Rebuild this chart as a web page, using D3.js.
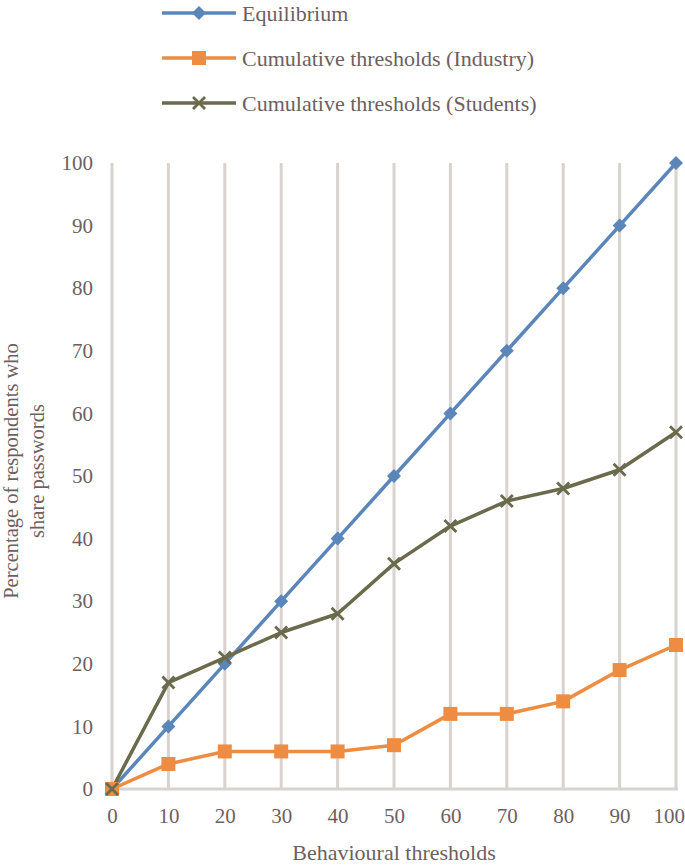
<!DOCTYPE html>
<html><head><meta charset="utf-8">
<script src="https://cdn.jsdelivr.net/npm/d3@7"></script>
<style>body{margin:0;background:#fff}svg{display:block}</style>
</head><body>
<svg id="c" width="685" height="867"></svg>
<script>
const xValues = [0,10,20,30,40,50,60,70,80,90,100];
const equilibrium = [0,10,20,30,40,50,60,70,80,90,100];
const industry = [0,4,6,6,6,7,12,12,14,19,23];
const students = [0,17,21,25,28,36,42,46,48,51,57];
const yTicks = [0,10,20,30,40,50,60,70,80,90,100];
const seriesNames = ["Equilibrium","Cumulative thresholds (Industry)","Cumulative thresholds (Students)"];

const svg = d3.select("#c");
const font = "'Liberation Serif','Times New Roman',serif";
const textColor = "#6e5f5f";
const gridColor = "#d8d3cf";
const x = d3.scaleLinear().domain([0,100]).range([112,676]);
const y = d3.scaleLinear().domain([0,100]).range([789,163]);

svg.append("g").selectAll("line").data(xValues).join("line")
  .attr("x1",d=>x(d)).attr("x2",d=>x(d)).attr("y1",y(100)).attr("y2",y(0))
  .attr("stroke",gridColor).attr("stroke-width",3);
svg.append("line").attr("x1",x(0)).attr("x2",x(100)+2).attr("y1",y(0)).attr("y2",y(0))
  .attr("stroke",gridColor).attr("stroke-width",3);

const xAxis = d3.axisBottom(x).tickValues(xValues).tickSize(0).tickPadding(0);
const gx = svg.append("g").attr("transform",`translate(0,${y(0)+34})`).call(xAxis);
gx.select(".domain").remove();
gx.selectAll("text").attr("font-family",font).attr("font-size",21).attr("fill",textColor).attr("dy","0");
gx.selectAll("text").filter(d=>d===100).attr("text-anchor","end").attr("dx",8.5);

const yAxis = d3.axisLeft(y).tickValues(yTicks).tickSize(0).tickPadding(0);
const gy = svg.append("g").attr("transform",`translate(93,0)`).call(yAxis);
gy.select(".domain").remove();
gy.selectAll("text").attr("font-family",font).attr("font-size",21).attr("fill",textColor).attr("dy","0.32em");

svg.append("text").attr("x",394).attr("y",860).attr("text-anchor","middle")
  .attr("font-family",font).attr("font-size",22).attr("fill",textColor).text("Behavioural thresholds");
const yt = svg.append("text").attr("transform","translate(0,471) rotate(-90)")
  .attr("text-anchor","middle").attr("font-family",font).attr("font-size",20.5).attr("fill",textColor);
yt.append("tspan").attr("x",0).attr("y",18).text("Percentage of respondents who");
yt.append("tspan").attr("x",0).attr("y",44).text("share passwords");

const colors = ["#5b86b9","#ee8c41","#6a6a4c"];
const data = [equilibrium, industry, students];
const line = d3.line().x((d,i)=>x(xValues[i])).y(d=>y(d));

data.forEach((s,k)=>{
  svg.append("path").datum(s).attr("d",line).attr("fill","none")
    .attr("stroke",colors[k]).attr("stroke-width",3.5).attr("stroke-linejoin","round");
});

function marker(g,k,cx,cy){
  if(k===0){
    g.append("path").attr("d",`M${cx},${cy-7}L${cx+7},${cy}L${cx},${cy+7}L${cx-7},${cy}Z`).attr("fill",colors[0]);
  } else if(k===1){
    g.append("rect").attr("x",cx-7).attr("y",cy-7).attr("width",14).attr("height",14).attr("fill",colors[1]);
  } else {
    g.append("path").attr("d",`M${cx-6},${cy-6}L${cx+6},${cy+6}M${cx-6},${cy+6}L${cx+6},${cy-6}`)
      .attr("stroke",colors[2]).attr("stroke-width",2.8);
  }
}
data.forEach((s,k)=>{
  const g = svg.append("g");
  s.forEach((v,i)=>marker(g,k,x(xValues[i]),y(v)));
});

const legY = [13,58,103];
seriesNames.forEach((n,k)=>{
  svg.append("line").attr("x1",162).attr("x2",236).attr("y1",legY[k]).attr("y2",legY[k])
    .attr("stroke",colors[k]).attr("stroke-width",3.5);
  const g = svg.append("g");
  marker(g,k,199,legY[k]);
  svg.append("text").attr("x",242).attr("y",legY[k]).attr("dy","0.35em")
    .attr("font-family",font).attr("font-size",22).attr("fill",textColor).text(n);
});
</script>
</body></html>
